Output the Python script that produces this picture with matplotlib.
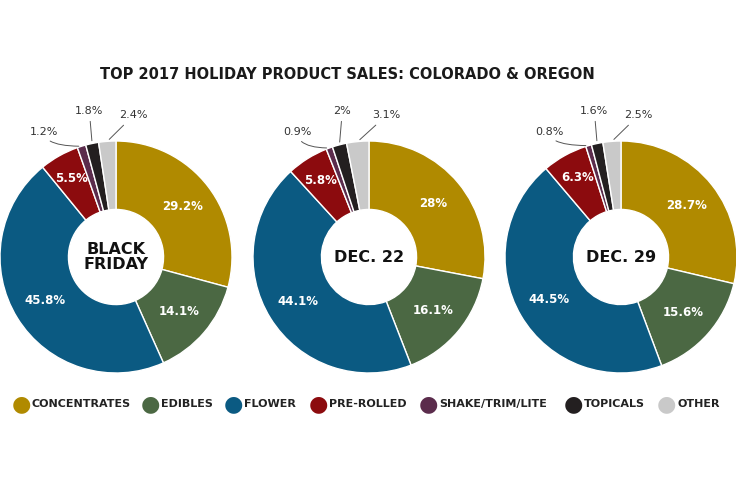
import matplotlib.pyplot as plt
import numpy as np

categories = ['CONCENTRATES', 'EDIBLES', 'FLOWER', 'PRE-ROLLED', 'SHAKE/TRIM/LITE', 'TOPICALS', 'OTHER']
colors = ['#b08a00', '#4b6843', '#0b5a82', '#8c0b0e', '#5b2c4c', '#231f20', '#c9c9c9']
titles = ['BLACK\nFRIDAY', 'DEC. 22', 'DEC. 29']
black_friday = [29.2, 14.1, 45.8, 5.5, 1.2, 1.8, 2.4]
dec22 = [28, 16.1, 44.1, 5.8, 0.9, 2, 3.1]
dec29 = [28.7, 15.6, 44.5, 6.3, 0.8, 1.6, 2.5]
labels = [['29.2%', '14.1%', '45.8%', '5.5%', '1.2%', '1.8%', '2.4%'],
          ['28%', '16.1%', '44.1%', '5.8%', '0.9%', '2%', '3.1%'],
          ['28.7%', '15.6%', '44.5%', '6.3%', '0.8%', '1.6%', '2.5%']]
series = [black_friday, dec22, dec29]

fig = plt.figure(figsize=(7.36, 4.91), dpi=100)
fig.text(0.472, 0.848, 'TOP 2017 HOLIDAY PRODUCT SALES: COLORADO & OREGON',
         ha='center', va='center', fontsize=10.5, fontweight='bold', color='#1a1a1a')

centers = [116, 369, 621]
outside_pos = [(-0.62, 1.08), (-0.23, 1.26), (0.15, 1.22)]
for i, cx in enumerate(centers):
    w = 2 * 116 / 736
    h = 2 * 116 / 491
    ax = fig.add_axes([cx / 736 - w / 2, 1 - 257 / 491 - h / 2, w, h])
    wedges, _ = ax.pie(series[i], colors=colors, startangle=90, counterclock=False,
                       wedgeprops=dict(width=0.59, edgecolor='white', linewidth=1))
    for j, wd in enumerate(wedges):
        ang = np.deg2rad((wd.theta1 + wd.theta2) / 2)
        if j < 4:
            r = 0.72 if j != 3 else 0.78
            ax.text(r * np.cos(ang), r * np.sin(ang), labels[i][j], ha='center', va='center',
                    color='white', fontsize=8.5, fontweight='bold')
        else:
            tx, ty = outside_pos[j - 4]
            px, py = 1.0 * np.cos(ang), 1.0 * np.sin(ang)
            ax.annotate(labels[i][j], xy=(px, py), xytext=(tx, ty), ha='center', va='center',
                        fontsize=8, color='#333333',
                        arrowprops=dict(arrowstyle='-', color='#555555', lw=0.7,
                                        connectionstyle='angle3' if j == 4 else 'arc3'))
    ax.text(0, 0, titles[i], ha='center', va='center', fontsize=11.5, fontweight='bold',
            color='#111111', linespacing=1.0)
    ax.set_xlim(-1, 1)
    ax.set_ylim(-1, 1)
    ax.set_aspect('equal')
    ax.axis('off')

# legend
leg_x = [21, 150, 233, 318, 428, 573, 666]
for k, cat in enumerate(categories):
    x = leg_x[k] / 736
    y = 1 - 404 / 491
    fig.text(x, y, '\u25cf', color=colors[k], fontsize=16, ha='center', va='center')
    fig.text(x + 11 / 736, y, cat, fontsize=8, fontweight='bold', ha='left', va='center',
             color='#222222')

fig.savefig('out.png', dpi=100)
